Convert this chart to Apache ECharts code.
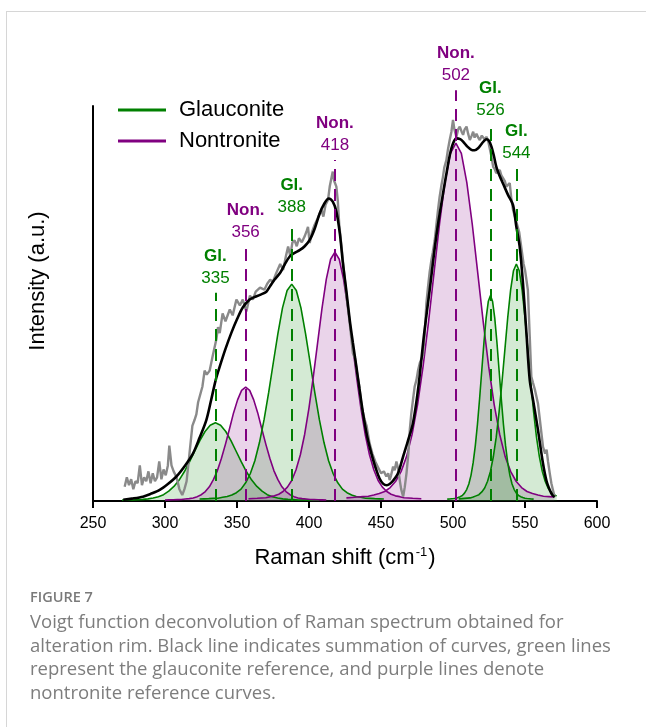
<!DOCTYPE html>
<html>
<head>
<meta charset="utf-8">
<title>Raman deconvolution</title>
<script src="https://cdn.jsdelivr.net/npm/echarts@6/dist/echarts.min.js"></script>
<style>
  html, body { margin: 0; padding: 0; background: #fff; }
  #frame { position: absolute; left: 6px; top: 11px; width: 700px; height: 760px;
           border-left: 1px solid #d6d6d6; border-top: 1px solid #d6d6d6; }
  #chart { position: absolute; left: 0; top: 0; width: 646px; height: 727px; }
</style>
</head>
<body>
<div id="frame"></div>
<div id="chart"></div>
<script>
// measured spectrum (grey)
var specX = [272,273.5,275,276.5,278,279.5,281,282.5,284,285.5,287,288.5,290,291.5,293,294.5,296,297.5,299,300.5,
  302,303,304.5,306,308,310,312,313.5,315,317,319,320.5,321.8,323,324,326,327.5,329,331,333,
  335.7,336.8,338,340,342,345,347,349.6,352,354,356.5,359,361,363,366,369,371,373,375,377,
  380,382,384,385.5,387,388.5,390,391.5,393,395,397,398.5,399.3,400.5,402,404,406,408.6,410,411.5,
  413.2,414.4,415.5,416.5,417.5,419,420,421,423.5,426,428.3,430.5,432,433.5,435,436.5,438.7,440,442,444,
  446,448,450,452,453.7,455,456,457,458.4,459.5,460.7,462,463,464,465.4,466.5,467.7,469,470,471,
  472.2,473.4,474.6,475.7,477,479.2,480.3,481.5,482.6,483.8,485,486,487.3,488.5,489.6,490.7,492,493,494,495.4,
  496.5,497.7,498.9,500,501,502.4,503.5,504.7,506,507,508,509.4,510.5,511.7,513,514,515,516.3,517.5,518.6,
  520,521,522,523.2,524.5,525.6,526.7,527.9,529,530,531,532.5,533.5,534.7,536,537,538.2,539.4,540.6,541.7,
  543,544.5,546,547.5,549,550,551,552,553.3,554.4,555.5,557,559,560.5,562.5,564,565,566,567.2,568.3,569.4,570.6];
var specY = [.036,.06,.04,.055,.03,.05,.045,.09,.04,.06,.05,.075,.045,.07,.05,.06,.10,.055,.08,.065,
  .09,.14,.09,.075,.06,.03,.015,.03,.05,.12,.19,.205,.22,.25,.255,.29,.33,.32,.33,.365,
  .41,.44,.425,.475,.455,.485,.47,.51,.495,.51,.48,.52,.51,.53,.54,.535,.55,.56,.555,.575,
  .60,.585,.62,.644,.62,.655,.66,.645,.665,.655,.67,.685,.694,.653,.68,.70,.715,.737,.72,.75,
  .762,.796,.80,.834,.81,.796,.76,.70,.61,.52,.45,.374,.36,.32,.29,.239,.205,.19,.147,.12,
  .10,.085,.07,.075,.062,.07,.053,.065,.087,.078,.10,.08,.053,.03,.011,.035,.07,.12,.18,.22,
  .256,.29,.306,.33,.35,.37,.42,.50,.54,.58,.61,.63,.66,.70,.737,.77,.80,.82,.845,.863,
  .89,.914,.935,.965,.94,.922,.94,.948,.935,.927,.94,.948,.93,.914,.925,.935,.92,.93,.92,.914,
  .925,.93,.915,.922,.91,.906,.872,.846,.84,.83,.835,.838,.825,.821,.81,.796,.80,.805,.762,.737,
  .72,.70,.68,.64,.60,.585,.56,.534,.416,.315,.30,.28,.247,.20,.137,.12,.13,.10,.07,.045,.028,.01];

// summation of fitted curves (black)
var sumX = [271,277,284.7,290,296.3,302,307.9,314,319.4,324,328.7,332,335.2,338,342,346,350,354,358.8,362,
  366,370.4,373,376,380,383,386.6,390,393.5,397,400.5,404,407.4,410.5,413.7,416.5,419,421.5,423.6,426,
  428.3,430.5,432.9,435,437.5,440,442.1,444.5,446.8,449,451.4,454,456,458.5,461.8,465.3,468.5,472.2,476,480,
  483.8,487.3,490,493.1,495.5,497.8,500,502.4,505,507,510,512.8,515,517.4,520,523.2,525,526.7,528.5,530.1,
  532.5,534.7,538.2,541.7,544,546.3,548.6,551,553.3,555.6,559,562.5,565,567.2,569,570.6];
var sumY = [.003,.006,.011,.018,.028,.043,.062,.09,.12,.16,.205,.255,.306,.34,.385,.425,.46,.49,.51,.516,
  .522,.53,.544,.56,.578,.598,.619,.628,.635,.645,.661,.69,.728,.752,.766,.758,.733,.675,.60,.53,
  .458,.40,.34,.285,.222,.17,.137,.105,.078,.057,.044,.04,.043,.052,.07,.112,.15,.197,.29,.425,
  .534,.64,.71,.779,.83,.876,.905,.918,.916,.91,.897,.889,.888,.893,.905,.916,.912,.897,.872,.846,
  .822,.804,.775,.749,.694,.644,.551,.425,.306,.256,.18,.095,.05,.028,.015,.01];

// fitted component curves: first shift, step, intensities
var gl335Start = 270.2, gl335Step = 3.6;
var gl335 = [.0022,.0024,.0026,.0034,.0042,.0053,.0075,.011,.016,.025,.037,.053,.074,.099,.126,.153,.176,.192,
  .198,.192,.176,.153,.126,.099,.074,.053,.037,.025,.016,.011,.0075,.0053,.0042,.0034,.0026,.0024,.0022,.002,.0018];
var non356Start = 300, non356Step = 2.8;
var non356 = [.0026,.0029,.0032,.0035,.0037,.0049,.006,.0078,.011,.016,.024,.036,.054,.077,.108,.144,.183,.223,.256,.280,
  .288,.280,.256,.223,.183,.144,.108,.077,.054,.036,.024,.016,.011,.0078,.006,.0049,.0037,.0035,.0032,.0029,.0026];
var gl388Start = 324, gl388Step = 3.2;
var gl388 = [.0049,.0055,.006,.0066,.0071,.0093,.0115,.015,.021,.030,.046,.069,.102,.148,.206,.275,.350,.424,.489,.533,
  .549,.533,.489,.424,.350,.275,.206,.148,.102,.069,.046,.030,.021,.015,.0115,.0093,.0071,.0066,.006,.0055,.0049];
var non418Start = 358, non418Step = 3;
var non418 = [.0057,.0063,.0069,.0076,.0082,.011,.013,.017,.024,.035,.052,.079,.117,.169,.236,.315,.401,.487,.561,.612,
  .63,.612,.561,.487,.401,.315,.236,.169,.117,.079,.052,.035,.024,.017,.013,.011,.0082,.0076,.0069,.0063,.0057];
var non502Start = 426, non502Step = 3.8;
var non502 = [.008,.009,.010,.011,.012,.015,.019,.024,.034,.050,.075,.113,.169,.244,.340,.453,.577,.700,.806,.880,
  .906,.880,.806,.700,.577,.453,.340,.244,.169,.113,.075,.050,.034,.024,.019,.015,.012,.011,.010];
var gl526Start = 496, gl526Step = 1.5;
var gl526 = [.0047,.0052,.0057,.0062,.0068,.0088,.011,.014,.020,.029,.043,.065,.097,.140,.195,.26,.331,.402,.463,.505,
  .52,.505,.463,.402,.331,.26,.195,.140,.097,.065,.043,.029,.020,.014,.011,.0088,.0068,.0062,.0057,.0052,.0047];
var gl544Start = 504, gl544Step = 2;
var gl544 = [.0054,.006,.0066,.0072,.0078,.010,.013,.016,.023,.033,.050,.075,.112,.161,.225,.30,.382,.464,.534,.583,
  .60,.583,.534,.464,.382,.30,.225,.161,.112,.075,.050,.033,.023,.016,.013];

// peak annotations
var peakShift = [335, 356, 388, 418, 502, 526, 544];
var peakKind = ['Gl.', 'Non.', 'Gl.', 'Non.', 'Non.', 'Gl.', 'Gl.'];
var peakTop = [.527, .641, .706, .863, 1.04, .952, .843];

var GREEN = '#008000', PURPLE = '#800080';
var FONT = '"Liberation Sans", Arial, sans-serif';
var CAPTION_FONT = '"Open Sans", "Noto Sans", sans-serif';

function pairs(xs, ys) {
    return ys.map(function (y, i) { return [xs[i], y]; });
}
function stepped(start, step, ys) {
    return ys.map(function (y, i) { return [start + i * step, y]; });
}
function component(name, color, data) {
    return {
        name: name, type: 'line', xAxisIndex: 1, yAxisIndex: 1,
        data: data, symbol: 'none', z: 2,
        lineStyle: { color: color, width: 1.6 },
        itemStyle: { color: color },
        areaStyle: { color: color, opacity: 0.17 }
    };
}

var chart = echarts.init(document.getElementById('chart'));

var peakLines = peakShift.map(function (s, i) {
    var c = peakKind[i] === 'Gl.' ? GREEN : PURPLE;
    return [{
        coord: [s, 0],
        lineStyle: { color: c, width: 2, type: [12, 8] },
        label: {
            show: true, position: 'end', distance: 4,
            formatter: '{k|' + peakKind[i] + '}\n{n|' + s + '}',
            rich: {
                k: { fontSize: 17, fontWeight: 'bold', color: c, fontFamily: FONT, lineHeight: 22, align: 'center' },
                n: { fontSize: 17, color: c, fontFamily: FONT, lineHeight: 22, align: 'center' }
            }
        }
    }, { coord: [s, peakTop[i]] }];
});

chart.setOption({
    animation: false,
    backgroundColor: 'transparent',
    grid: [
        { left: 93, right: 49, top: 106, bottom: 226 },
        { left: 93, right: 49, top: 27, bottom: 226 }
    ],
    legend: {
        data: ['Glauconite', 'Nontronite'],
        orient: 'vertical', left: 113, top: 93,
        icon: 'rect', itemWidth: 48, itemHeight: 3, itemGap: 7,
        textStyle: { fontSize: 22, color: '#000', fontFamily: FONT, lineHeight: 24, padding: [0, 0, 0, 8] }
    },
    xAxis: [{
        gridIndex: 0, type: 'value', min: 250, max: 600, interval: 50,
        axisLine: { lineStyle: { color: '#000', width: 2 } },
        axisTick: { length: 7, lineStyle: { color: '#000', width: 2 } },
        axisLabel: { fontSize: 16, color: '#000', fontFamily: FONT, margin: 15 },
        splitLine: { show: false },
        name: 'Raman shift (cm{s|-1})',
        nameLocation: 'middle', nameGap: 45,
        nameTextStyle: {
            fontSize: 22, color: '#000', fontFamily: FONT,
            rich: { s: { fontSize: 13, color: '#000', fontFamily: FONT, padding: [0, 1, 11, 1] } }
        }
    }, {
        gridIndex: 1, type: 'value', min: 250, max: 600, show: false
    }],
    yAxis: [{
        gridIndex: 0, type: 'value', min: 0, max: 1,
        axisLine: { show: true, lineStyle: { color: '#000', width: 2 } },
        axisTick: { show: false }, axisLabel: { show: false }, splitLine: { show: false }
    }, {
        gridIndex: 1, type: 'value', min: 0, max: 1.2, show: false, splitLine: { show: false }
    }],
    graphic: [{
        type: 'text', x: 38, y: 281, rotation: Math.PI / 2,
        style: { text: 'Intensity (a.u.)', fontSize: 22, fontFamily: FONT, fill: '#000',
                 textAlign: 'center', textVerticalAlign: 'middle' }
    }, {
        type: 'text', x: 30, y: 598,
        style: { text: 'FIGURE 7', fontSize: 14.5, fontWeight: 600, fontFamily: CAPTION_FONT,
                 fill: '#7a7a7a', textVerticalAlign: 'middle' }
    }, {
        type: 'text', x: 30, y: 611,
        style: {
            text: 'Voigt function deconvolution of Raman spectrum obtained for\n' +
                  'alteration rim. Black line indicates summation of curves, green lines\n' +
                  'represent the glauconite reference, and purple lines denote\n' +
                  'nontronite reference curves.',
            fontSize: 18.5, lineHeight: 23.6, fontFamily: CAPTION_FONT, fill: '#7d7d7d'
        }
    }],
    series: [
        component('Glauconite', GREEN, stepped(gl335Start, gl335Step, gl335)),
        component('Nontronite', PURPLE, stepped(non356Start, non356Step, non356)),
        component('Glauconite', GREEN, stepped(gl388Start, gl388Step, gl388)),
        component('Nontronite', PURPLE, stepped(non418Start, non418Step, non418)),
        component('Nontronite', PURPLE, stepped(non502Start, non502Step, non502)),
        component('Glauconite', GREEN, stepped(gl526Start, gl526Step, gl526)),
        component('Glauconite', GREEN, stepped(gl544Start, gl544Step, gl544)),
        {
            name: 'Spectrum', type: 'line', xAxisIndex: 1, yAxisIndex: 1, z: 3,
            data: pairs(specX, specY), symbol: 'none',
            lineStyle: { color: '#8a8a8a', width: 2.4 }
        },
        {
            name: 'Sum', type: 'line', xAxisIndex: 1, yAxisIndex: 1, z: 4,
            data: pairs(sumX, sumY), symbol: 'none', smooth: 0.3,
            lineStyle: { color: '#000', width: 2.6 }
        },
        {
            name: 'Peaks', type: 'line', xAxisIndex: 1, yAxisIndex: 1, z: 5,
            data: [], symbol: 'none',
            markLine: { silent: true, symbol: ['none', 'none'], data: peakLines }
        }
    ]
});
</script>
</body>
</html>
